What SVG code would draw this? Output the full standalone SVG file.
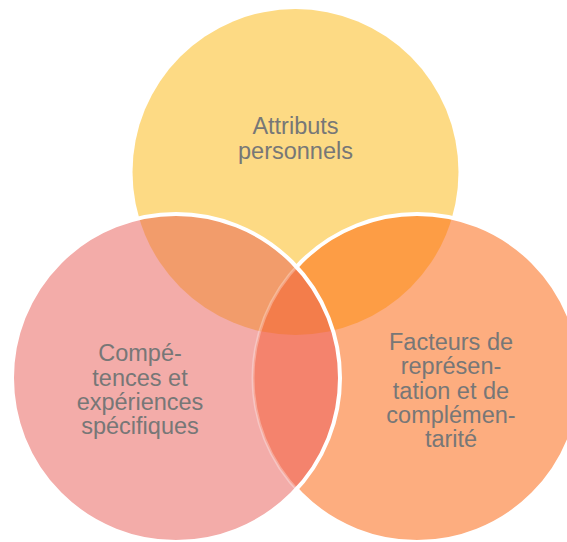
<svg xmlns="http://www.w3.org/2000/svg" width="567" height="542" viewBox="0 0 567 542">
  <defs>
    <circle id="cY" cx="295.5" cy="172" r="163"/>
    <circle id="cP" cx="176" cy="378" r="164"/>
    <circle id="cO" cx="417" cy="378" r="164"/>
    <clipPath id="clipY"><use href="#cY"/></clipPath>
    <clipPath id="clipP"><use href="#cP"/></clipPath>
    <clipPath id="clipO"><use href="#cO"/></clipPath>
    <style>
      .lbl { font-family: "Liberation Sans", Arial, sans-serif; font-size: 23.5px; fill: #777777; text-anchor: middle; }
      .edge { fill: none; stroke: #ffffff; stroke-width: 4; }
      .faint { fill: none; stroke: #ffffff; stroke-opacity: 0.3; stroke-width: 3; }
    </style>
  </defs>

  <g id="node-attributs">
    <use href="#cY" fill="#FDDA84"/>
    <text class="lbl" x="295.5" y="134">Attributs</text>
    <text class="lbl" x="295.5" y="158.5">personnels</text>
  </g>

  <g id="node-facteurs">
    <use href="#cO" fill="#FDAD7F"/>
    <g clip-path="url(#clipO)">
      <use href="#cY" fill="#FD9D45"/>
    </g>
    <use href="#cO" class="edge"/>
    <text class="lbl" x="451" y="350">Facteurs de</text>
    <text class="lbl" x="451" y="374">représen-</text>
    <text class="lbl" x="451" y="399">tation et de</text>
    <text class="lbl" x="451" y="423">complémen-</text>
    <text class="lbl" x="451" y="447">tarité</text>
  </g>

  <g id="node-competences">
    <use href="#cP" fill="#F3ACA9"/>
    <g clip-path="url(#clipP)">
      <use href="#cY" fill="#F29C6B"/>
      <use href="#cO" fill="#F4836D"/>
      <g clip-path="url(#clipO)">
        <use href="#cY" fill="#F37D4B"/>
      </g>
      <use href="#cO" class="faint"/>
    </g>
    <use href="#cP" class="edge"/>
    <text class="lbl" x="140" y="361">Compé-</text>
    <text class="lbl" x="140" y="386">tences et</text>
    <text class="lbl" x="140" y="410">expériences</text>
    <text class="lbl" x="140" y="434">spécifiques</text>
  </g>

  <g id="connectors"/>
</svg>
